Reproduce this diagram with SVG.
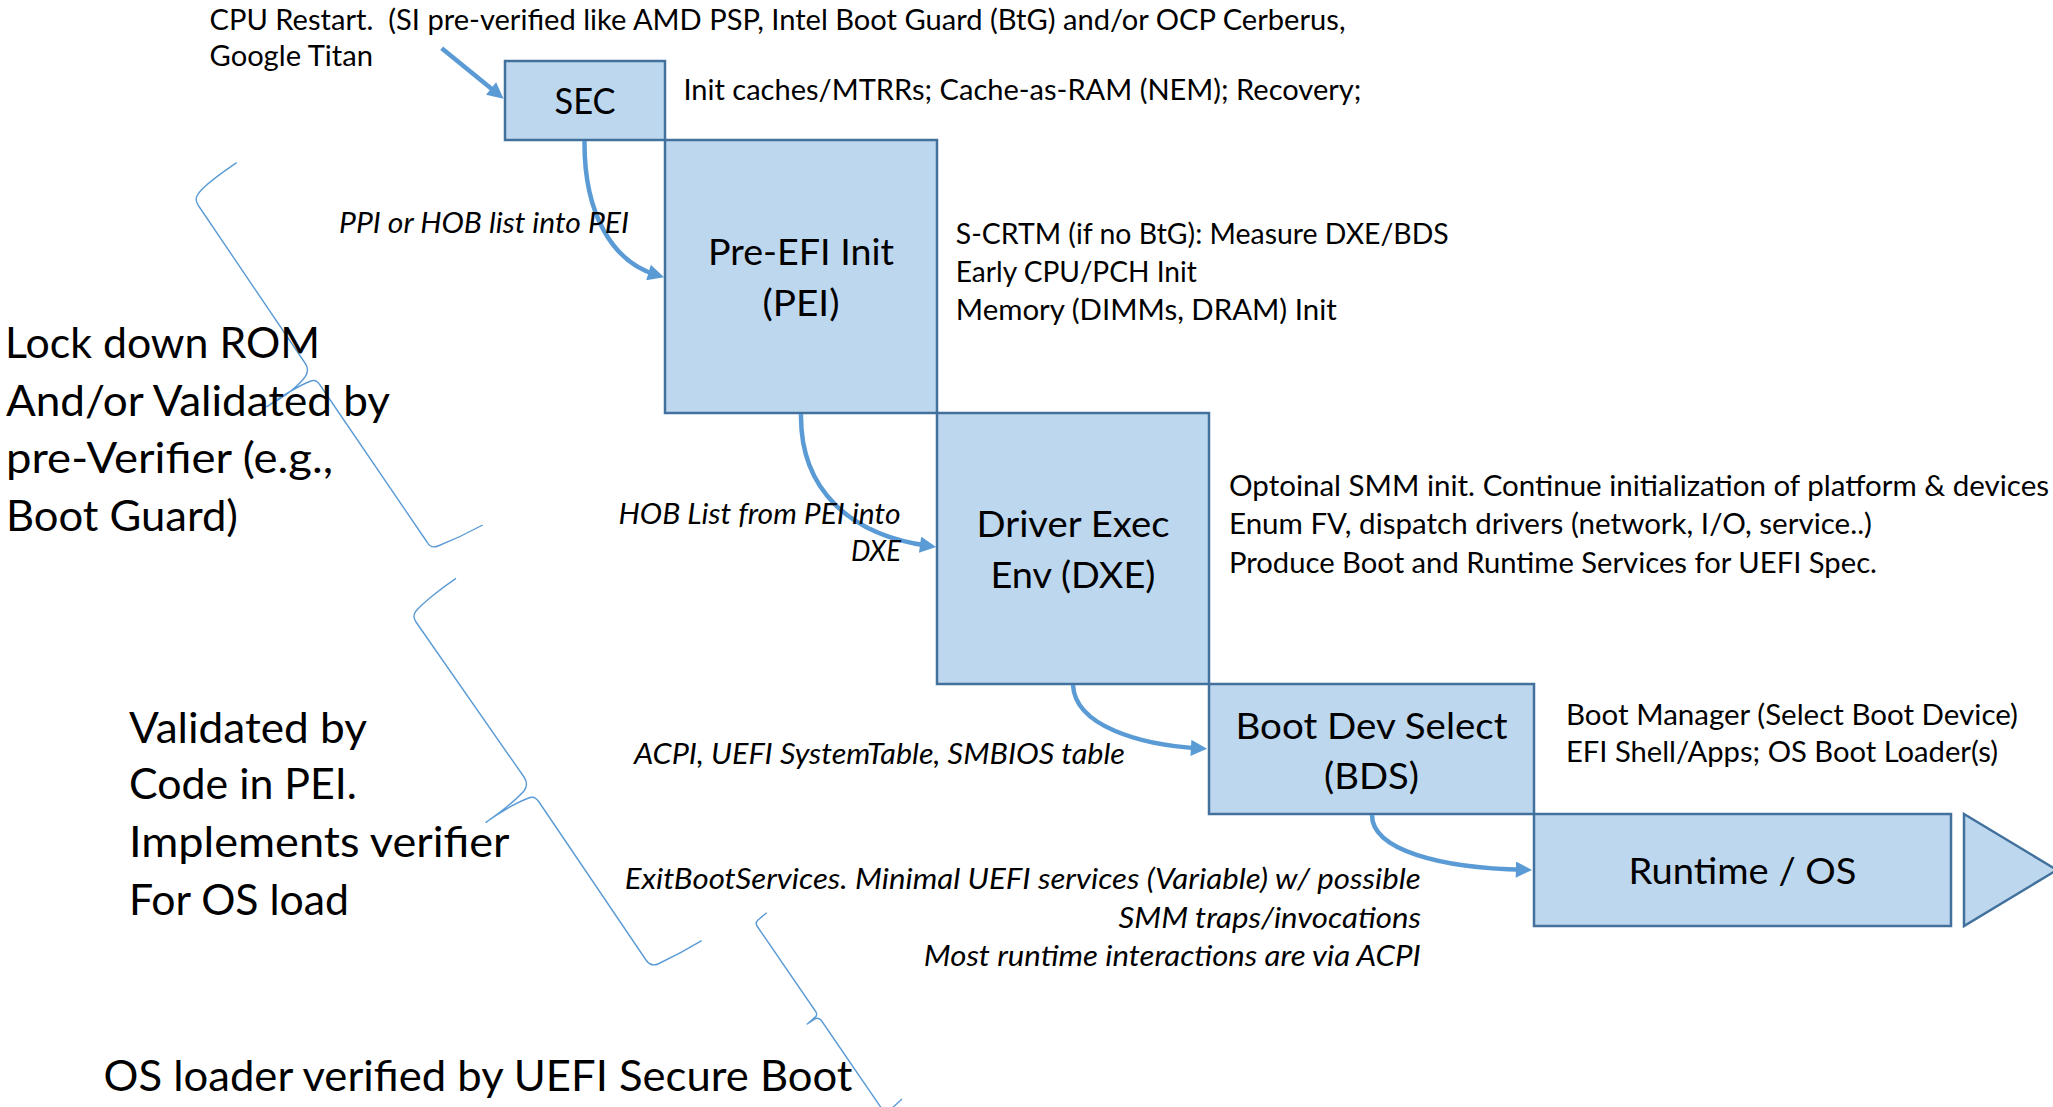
<svg xmlns="http://www.w3.org/2000/svg" width="2053" height="1107" viewBox="0 0 2053 1107">
  <defs>
    <style>
      .box { fill: #BDD7EE; stroke: #41719C; stroke-width: 2.5; }
      .lbl { font-family: Lato, "Open Sans", sans-serif; font-size: 37px; fill: #000; text-anchor: middle; }
      .sm { font-family: Lato, "Open Sans", sans-serif; font-size: 28px; fill: #000; white-space: pre; }
      .it { font-family: Lato, "Open Sans", sans-serif; font-size: 28px; font-style: italic; fill: #000; }
      .big { font-family: Lato, "Open Sans", sans-serif; font-size: 42px; fill: #000; }
      .flow { fill: none; stroke: #5B9BD5; stroke-width: 4.5; marker-end: url(#head); }
      .brace { fill: none; stroke: #5B9BD5; stroke-width: 1.4; stroke-linejoin: round; }
    </style>
    <marker id="head" viewBox="0 0 10 10" refX="5" refY="5" markerWidth="4" markerHeight="3.6" orient="auto">
      <path d="M0,0 L10,5 L0,10 z" fill="#5B9BD5"/>
    </marker>
  </defs>

  <rect width="2053" height="1107" fill="#FFFFFF"/>

  <!-- phase boxes -->
  <g id="sec">
    <rect class="box" x="505" y="61" width="160" height="79"/>
    <text class="lbl" x="585" y="114" textLength="61" lengthAdjust="spacingAndGlyphs">SEC</text>
  </g>
  <g id="pei">
    <rect class="box" x="665" y="140" width="272" height="273"/>
    <text class="lbl" x="801" y="264.5" textLength="186" lengthAdjust="spacingAndGlyphs">Pre-EFI Init</text>
    <text class="lbl" x="801" y="315.5" textLength="77" lengthAdjust="spacingAndGlyphs">(PEI)</text>
  </g>
  <g id="dxe">
    <rect class="box" x="937" y="413" width="272" height="271"/>
    <text class="lbl" x="1073" y="536.5" textLength="193" lengthAdjust="spacingAndGlyphs">Driver Exec</text>
    <text class="lbl" x="1073" y="588" textLength="165" lengthAdjust="spacingAndGlyphs">Env (DXE)</text>
  </g>
  <g id="bds">
    <rect class="box" x="1209" y="684" width="325" height="130"/>
    <text class="lbl" x="1371.5" y="738.5" textLength="272" lengthAdjust="spacingAndGlyphs">Boot Dev Select</text>
    <text class="lbl" x="1371.5" y="789" textLength="95" lengthAdjust="spacingAndGlyphs">(BDS)</text>
  </g>
  <g id="runtime">
    <rect class="box" x="1534" y="814" width="417" height="112"/>
    <text class="lbl" x="1742.5" y="883.5" textLength="228" lengthAdjust="spacingAndGlyphs">Runtime / OS</text>
  </g>
  <g id="os-arrow">
    <polygon class="box" points="1964,814 2057,870 1964,926"/>
  </g>

  <!-- hand-off connectors -->
  <g id="connectors">
    <path class="flow" d="M441.7,48.3 L497.3,93.6"/>
    <path class="flow" d="M584.5,141 C584,215 613,262 656.3,274.9"/>
    <path class="flow" d="M801,414 C800,490 850,535 928.1,545.8"/>
    <path class="flow" d="M1073,685 C1075,726 1140,745 1199,748.4"/>
    <path class="flow" d="M1372,815 C1372,850 1440,868 1524,869.8"/>
  </g>

  <!-- braces grouping the verification stages -->
  <g id="braces">
    <path class="brace" d="M236.7,162.7 C220,174 200,189 197,196 Q195,200 198,205 L305,363 Q310,370 305,377 C295,390 280,399 266.7,406.7 C282,396 298,386 311,381 Q316,379 320,385 L427,542 Q431,549 438,546 C453,540 468,533 482.7,525"/>
    <path class="brace" d="M456,578.3 C440,589 422,604 416,611 Q412,616 416,622 L524,777 Q529,784 524,791 C513,803 498,814 486,822.3 C499,813 515,803 530,797.5 Q535,796 539,802 L646,960 Q651,967 658,964 C673,957 688,949 701.7,940.7"/>
    <path class="brace" d="M766.7,912.7 L758,920 Q755,923 757,926 L816,1012 Q818,1016 814,1018 L807.3,1024 L815,1019 Q818,1017 821,1020 L882,1109 Q885,1113 890,1110 L902,1099"/>
  </g>

  <!-- stage notes -->
  <g id="notes">
    <text class="sm" x="209.5" y="29.6" textLength="1136" lengthAdjust="spacingAndGlyphs" xml:space="preserve">CPU Restart.  (SI pre-verified like AMD PSP, Intel Boot Guard (BtG) and/or OCP Cerberus,</text>
    <text class="sm" x="209.5" y="66" textLength="163.5" lengthAdjust="spacingAndGlyphs">Google Titan</text>
    <text class="sm" x="683.4" y="100.3" textLength="678" lengthAdjust="spacingAndGlyphs">Init caches/MTRRs; Cache-as-RAM (NEM); Recovery;</text>
    <text class="sm" x="955.8" y="244" textLength="493" lengthAdjust="spacingAndGlyphs">S-CRTM (if no BtG): Measure DXE/BDS</text>
    <text class="sm" x="955.8" y="282.3" textLength="241" lengthAdjust="spacingAndGlyphs">Early CPU/PCH Init</text>
    <text class="sm" x="955.8" y="320.3" textLength="381" lengthAdjust="spacingAndGlyphs">Memory (DIMMs, DRAM) Init</text>
    <text class="sm" x="1229" y="495.7" textLength="820" lengthAdjust="spacingAndGlyphs">Optoinal SMM init. Continue initialization of platform &amp; devices</text>
    <text class="sm" x="1229" y="533.7" textLength="643" lengthAdjust="spacingAndGlyphs">Enum FV, dispatch drivers (network, I/O, service..)</text>
    <text class="sm" x="1229" y="573" textLength="648" lengthAdjust="spacingAndGlyphs">Produce Boot and Runtime Services for UEFI Spec.</text>
    <text class="sm" x="1566" y="724.5" textLength="452" lengthAdjust="spacingAndGlyphs">Boot Manager (Select Boot Device)</text>
    <text class="sm" x="1566" y="762.3" textLength="432" lengthAdjust="spacingAndGlyphs">EFI Shell/Apps; OS Boot Loader(s)</text>
  </g>

  <!-- connector labels -->
  <g id="flow-labels">
    <text class="it" x="339" y="232.6" textLength="290" lengthAdjust="spacingAndGlyphs">PPI or HOB list into PEI</text>
    <text class="it" x="618.5" y="523.5" textLength="282" lengthAdjust="spacingAndGlyphs">HOB List from PEI into</text>
    <text class="it" x="851" y="561.3" textLength="50" lengthAdjust="spacingAndGlyphs">DXE</text>
    <text class="it" x="634" y="764.2" textLength="491" lengthAdjust="spacingAndGlyphs">ACPI, UEFI SystemTable, SMBIOS table</text>
    <text class="it" x="624.7" y="889" textLength="796" lengthAdjust="spacingAndGlyphs">ExitBootServices. Minimal UEFI services (Variable) w/ possible</text>
    <text class="it" x="1118.4" y="927.6" textLength="302.6" lengthAdjust="spacingAndGlyphs">SMM traps/invocations</text>
    <text class="it" x="923.8" y="965.5" textLength="497" lengthAdjust="spacingAndGlyphs">Most runtime interactions are via ACPI</text>
  </g>

  <!-- verification scopes -->
  <g id="scope-labels">
    <text class="big" x="5" y="358" textLength="315" lengthAdjust="spacingAndGlyphs">Lock down ROM</text>
    <text class="big" x="6" y="415.6" textLength="384" lengthAdjust="spacingAndGlyphs">And/or Validated by</text>
    <text class="big" x="6" y="473.2" textLength="327" lengthAdjust="spacingAndGlyphs">pre-Verifier (e.g.,</text>
    <text class="big" x="6" y="530.8" textLength="232" lengthAdjust="spacingAndGlyphs">Boot Guard)</text>
    <text class="big" x="129" y="743" textLength="238" lengthAdjust="spacingAndGlyphs">Validated by</text>
    <text class="big" x="129" y="799.3" textLength="228" lengthAdjust="spacingAndGlyphs">Code in PEI.</text>
    <text class="big" x="129" y="856.9" textLength="380.5" lengthAdjust="spacingAndGlyphs">Implements verifier</text>
    <text class="big" x="129" y="914.5" textLength="220" lengthAdjust="spacingAndGlyphs">For OS load</text>
    <text class="big" x="103.5" y="1091" textLength="749" lengthAdjust="spacingAndGlyphs">OS loader verified by UEFI Secure Boot</text>
  </g>
</svg>
